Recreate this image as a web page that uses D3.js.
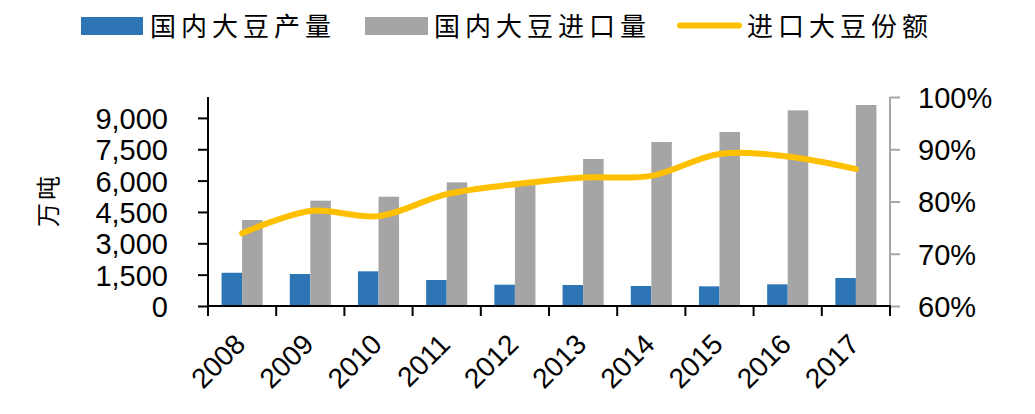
<!DOCTYPE html>
<html><head><meta charset="utf-8">
<script src="https://cdn.jsdelivr.net/npm/d3@7"></script>
<style>body{margin:0;background:#fff}</style>
</head><body>
<svg id="c" width="1035" height="414"></svg>
<script>
const years = ["2008","2009","2010","2011","2012","2013","2014","2015","2016","2017"];
const domesticOutput = [1590,1530,1660,1245,1020,1005,957,941,1037,1340];
const soyImports = [4115,5040,5230,5917,5838,7033,7847,8325,9362,9617];
const importShare = [73.9,78.2,77.2,81.4,83.3,84.6,84.9,89.1,88.6,86.2];
const leftTicks = [0,1500,3000,4500,6000,7500,9000];
const rightTicks = [60,70,80,90,100];
const seriesNames = ["国内大豆产量","国内大豆进口量","进口大豆份额"];
const colors = ["#2E75B6","#A5A5A5","#FFC000"];
const yUnit = "万吨";

const svg = d3.select("#c");
const L = 208, R = 890, T = 97, B = 306;
const x = d3.scaleBand().domain(years).range([L, R]).padding(0);
const x1 = d3.scaleBand().domain([0,1]).range([0, x.bandwidth()]).paddingInner(0).paddingOuter(0.66);
const yL = d3.scaleLinear().domain([0,10000]).range([B, T]);
const yR = d3.scaleLinear().domain([60,100]).range([B, T]);
const numFont = "'Liberation Sans', Arial, sans-serif";
const cjkFont = "'Noto Sans CJK SC', sans-serif";

// bars
const g = svg.append("g");
years.forEach((yr, i) => {
  [domesticOutput[i], soyImports[i]].forEach((v, k) => {
    g.append("rect")
      .attr("x", x(yr) + x1(k)).attr("width", x1.bandwidth())
      .attr("y", yL(v)).attr("height", B - yL(v))
      .attr("fill", colors[k]);
  });
});

// left axis
const axL = svg.append("g").attr("transform", `translate(${L},0)`)
  .call(d3.axisLeft(yL).tickValues(leftTicks).tickFormat(d3.format(",")).tickSize(10).tickPadding(30));
axL.select(".domain").attr("stroke", "#000").attr("stroke-width", 2).attr("d", `M0,${T}V${B}`);
axL.selectAll(".tick line").attr("stroke", "#000").attr("stroke-width", 2);
axL.selectAll(".tick text").attr("font-family", numFont).attr("font-size", 29).attr("fill", "#000").attr("dy", "0.36em");

// right axis
const axR = svg.append("g").attr("transform", `translate(${R},0)`)
  .call(d3.axisRight(yR).tickValues(rightTicks).tickFormat(d => d + "%").tickSize(10).tickPadding(18));
axR.select(".domain").attr("stroke", "#a6a6a6").attr("stroke-width", 2).attr("d", `M0,${T}V${B}`);
axR.selectAll(".tick line").attr("stroke", "#a6a6a6").attr("stroke-width", 2);
axR.selectAll(".tick text").attr("font-family", numFont).attr("font-size", 29).attr("fill", "#000").attr("dy", "0.36em");

// bottom axis
const axB = svg.append("g").attr("transform", `translate(0,${B})`);
axB.append("line").attr("x1", L - 1).attr("x2", R + 1).attr("stroke", "#000").attr("stroke-width", 2);
years.concat(["__end"]).forEach((yr, i) => {
  const xx = i < years.length ? x(yr) : R;
  axB.append("line").attr("x1", xx).attr("x2", xx).attr("y1", 0).attr("y2", 10).attr("stroke", "#000").attr("stroke-width", 2);
});
years.forEach(yr => {
  const cx = x(yr) + x.bandwidth() / 2;
  axB.append("text").text(yr)
    .attr("transform", `translate(${cx + 5},40) rotate(-45)`)
    .attr("text-anchor", "end")
    .attr("font-family", numFont).attr("font-size", 28).attr("fill", "#000");
});

// line
const line = d3.line()
  .x((d, i) => x(years[i]) + x.bandwidth() / 2)
  .y(d => yR(d))
  .curve(d3.curveCatmullRom.alpha(0.5));
svg.append("path").datum(importShare).attr("d", line)
  .attr("fill", "none").attr("stroke", colors[2]).attr("stroke-width", 6)
  .attr("stroke-linecap", "round").attr("stroke-linejoin", "round");

// y unit label
svg.append("text").text(yUnit)
  .attr("transform", "translate(57,200) rotate(-90)")
  .attr("text-anchor", "middle")
  .attr("font-family", cjkFont).attr("font-size", 24).attr("letter-spacing", 3).attr("fill", "#000");

// legend
const lg = svg.append("g");
const legendX = [81, 365, 677];
const legendTextX = [150, 434, 747];
lg.append("rect").attr("x", legendX[0]).attr("y", 17).attr("width", 62).attr("height", 18).attr("fill", colors[0]);
lg.append("rect").attr("x", legendX[1]).attr("y", 17).attr("width", 63).attr("height", 18).attr("fill", colors[1]);
lg.append("line").attr("x1", legendX[2] + 3).attr("x2", legendX[2] + 62).attr("y1", 25.5).attr("y2", 25.5)
  .attr("stroke", colors[2]).attr("stroke-width", 6).attr("stroke-linecap", "round");
seriesNames.forEach((s, i) => {
  lg.append("text").text(s).attr("x", legendTextX[i]).attr("y", 36)
    .attr("font-family", cjkFont).attr("font-size", 26).attr("letter-spacing", 5).attr("fill", "#000");
});
</script>
</body></html>
